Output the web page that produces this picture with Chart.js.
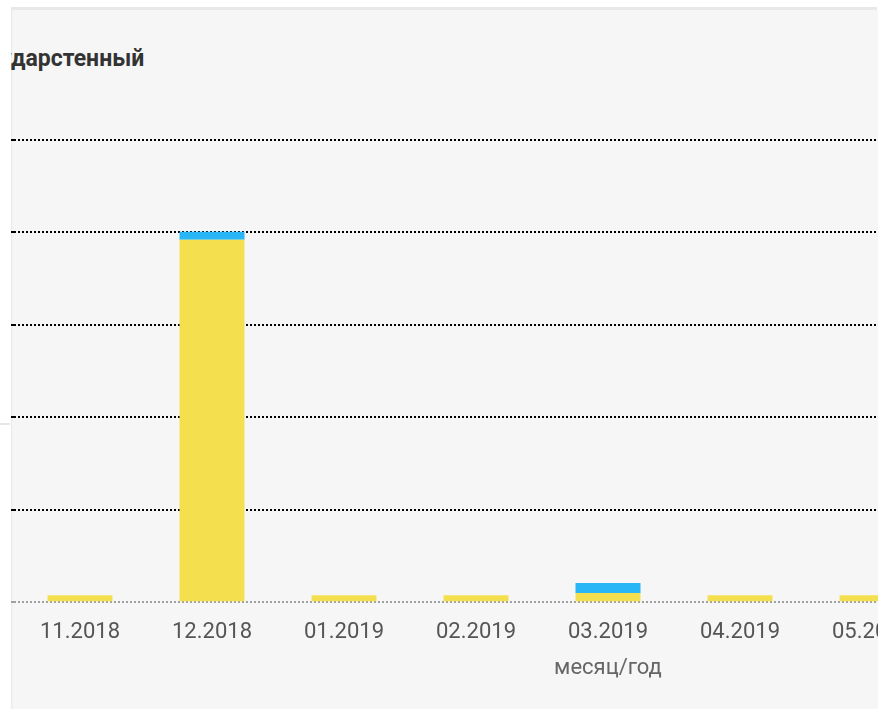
<!DOCTYPE html>
<html>
<head>
<meta charset="utf-8">
<script src="https://cdn.jsdelivr.net/npm/chart.js@4.4.0/dist/chart.umd.min.js"></script>
<style>
  html, body { margin: 0; padding: 0; background: #ffffff; width: 883px; height: 709px; overflow: hidden; }
  #topband { position: absolute; left: 11px; top: 7px; width: 866px; height: 3px; background: #e8e8e8; }
  #leftline { position: absolute; left: 0; top: 423px; width: 10px; height: 2px; background: #e6e6e6; }
  #panel { position: absolute; left: 11px; top: 10px; width: 867px; height: 699px; background: #f6f6f6; overflow: hidden;
           box-shadow: inset 2px 0 2px -1px rgba(0,0,0,0.06); }
  #title { position: absolute; top: 34px; white-space: nowrap; font-family: Roboto, sans-serif; font-weight: bold;
           font-size: 23px; color: #333; line-height: 30px; }
  #wrap { position: absolute; left: -27px; top: 100px; width: 1218px; height: 576px; }
</style>
</head>
<body>
<div id="topband"></div>
<div id="leftline"></div>
<div id="panel">
  <div id="title"><span id="pre">Госу</span>дарстенный</div>
  <div id="wrap"><canvas id="c"></canvas></div>
</div>
<script>
const categories = ['11.2018','12.2018','01.2019','02.2019','03.2019','04.2019','05.2019','06.2019','07.2019'];
const yellowValues = [0.76, 39.2, 0.76, 0.76, 1.0, 0.76, 0.76, 0.76, 0.76];
const blueValues   = [0, 0.87, 0, 0, 1.08, 0, 0, 0, 0];
const yMax = 50;
const yStep = 10;
const xTitle = 'месяц/год';

const pre = document.getElementById('pre');
document.getElementById('title').style.left = (-pre.getBoundingClientRect().width) + 'px';

new Chart(document.getElementById('c'), {
  type: 'bar',
  data: {
    labels: categories,
    datasets: [
      { data: yellowValues, backgroundColor: '#f4e04f', borderWidth: 0, barPercentage: 0.4924, categoryPercentage: 1 },
      { data: blueValues, backgroundColor: '#29b6f6', borderWidth: 0, barPercentage: 0.4924, categoryPercentage: 1 }
    ]
  },
  options: {
    responsive: true,
    maintainAspectRatio: false,
    animation: false,
    layout: { padding: { top: 30, left: 0, right: 0, bottom: 0 } },
    plugins: { legend: { display: false }, tooltip: { enabled: false }, title: { display: false } },
    scales: {
      x: {
        stacked: true,
        grid: { display: false },
        border: { display: false },
        ticks: { color: '#555', padding: 9, maxRotation: 0, font: { family: 'Roboto', size: 22 } },
        title: { display: true, text: xTitle, color: '#666', padding: { top: 1, bottom: 4 }, font: { family: 'Roboto', size: 22 } }
      },
      y: {
        stacked: true,
        min: 0, max: yMax,
        ticks: { display: false, stepSize: yStep },
        grid: {
          color: (ctx) => (ctx.tick && ctx.tick.value === 0) ? '#a0a0a0' : '#000',
          lineWidth: 2,
          drawTicks: true,
          tickLength: 30
        },
        border: { display: false, dash: [2, 2] }
      }
    }
  }
});
</script>
</body>
</html>
